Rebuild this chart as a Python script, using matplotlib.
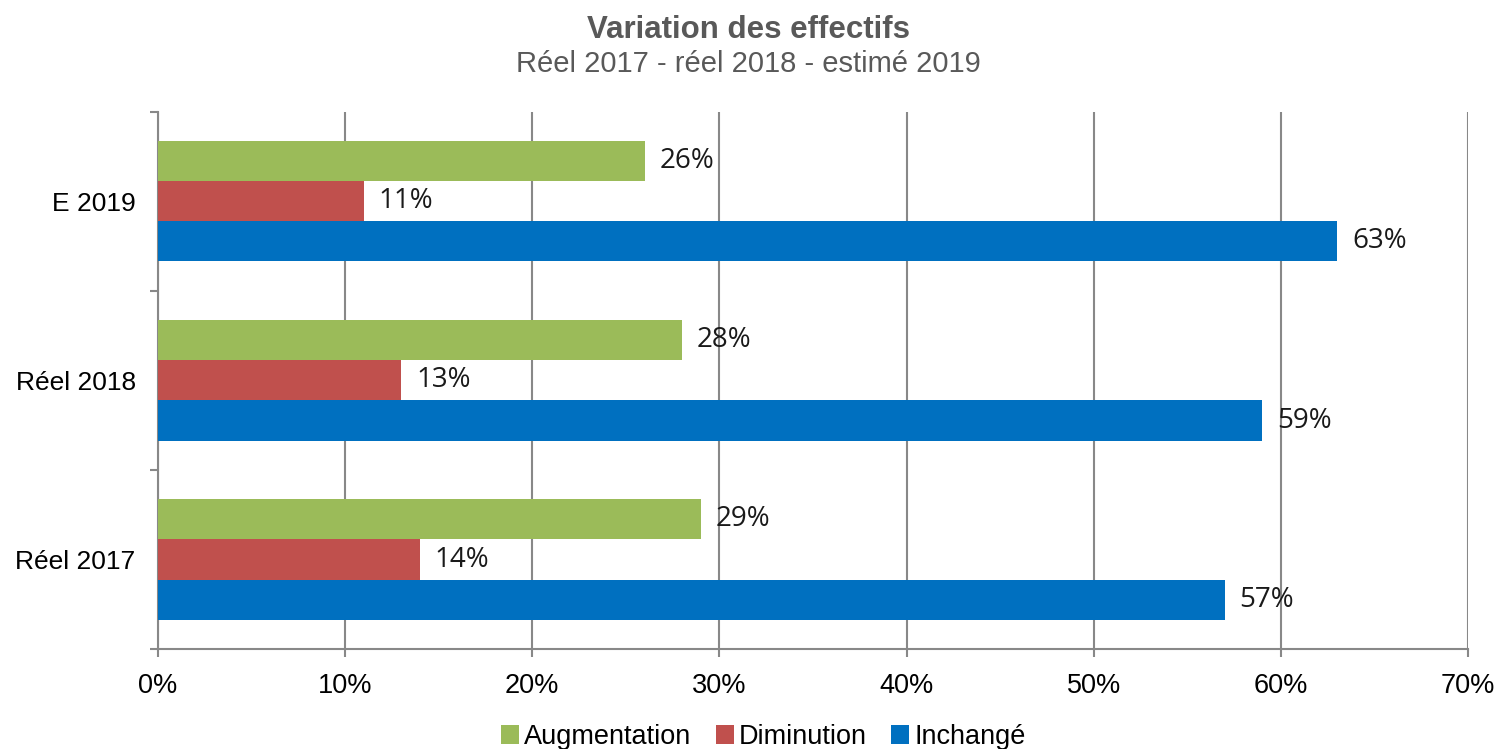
import matplotlib
matplotlib.use("Agg")
import matplotlib.pyplot as plt
import numpy as np

categories = ["Réel 2017", "Réel 2018", "E 2019"]
series = ["Augmentation", "Diminution", "Inchangé"]
augmentation = [29, 28, 26]
diminution = [14, 13, 11]
inchange = [57, 59, 63]
colors = ["#9BBB59", "#C0504D", "#0070C0"]
xticks = [0, 10, 20, 30, 40, 50, 60, 70]

plt.rcParams['font.family'] = ['Liberation Sans', 'DejaVu Sans']

fig = plt.figure(figsize=(14.97, 7.49), dpi=100)
ax = fig.add_axes([0.1055, 0.1335, 0.8751, 0.717])

y = np.arange(len(categories))
h = 0.2235
data = [augmentation, diminution, inchange]
offsets = [h, 0, -h]
for vals, off, c, name in zip(data, offsets, colors, series):
    bars = ax.barh(y + off, vals, height=h, color=c, label=name, zorder=3)
    for b, v in zip(bars, vals):
        ax.text(v + 0.8, b.get_y() + b.get_height() / 2, f"{v}%",
                va="center", ha="left", fontsize=20,
                family=["Open Sans", "DejaVu Sans"], color="#1a1a1a", zorder=4)

ax.set_xlim(0, 70)
ax.set_ylim(-0.5, 2.5)
ax.set_xticks(xticks)
ax.set_xticklabels([f"{t}%" for t in xticks], fontsize=19.5)
ax.set_yticks(y)
ax.set_yticklabels(categories, fontsize=19)
ax.set_yticks([-0.5, 0.5, 1.5, 2.5], minor=True)
ax.tick_params(axis="y", which="major", length=0, pad=16)
ax.tick_params(axis="y", which="minor", length=6, color="#888888", width=1.5)
ax.tick_params(axis="x", length=6, color="#888888", width=1.5, pad=11)
ax.grid(axis="x", color="#888888", linewidth=1.5, zorder=0)
for s in ["top", "right"]:
    ax.spines[s].set_visible(False)
for s in ["left", "bottom"]:
    ax.spines[s].set_color("#888888")
    ax.spines[s].set_linewidth(1.5)

fig.text(0.5, 0.96, "Variation des effectifs", ha="center", va="center",
         fontsize=22.5, fontweight="bold", color="#595959")
fig.text(0.5, 0.914, "Réel 2017 - réel 2018 - estimé 2019", ha="center",
         va="center", fontsize=21, color="#595959")

handles, labels = ax.get_legend_handles_labels()
fig.legend(handles, labels, loc="center", bbox_to_anchor=(0.51, 0.016), ncol=3,
           frameon=False, fontsize=19.5, handlelength=0.65, handleheight=0.65,
           handletextpad=0.2, columnspacing=0.9, borderpad=0)

fig.savefig("out.png", dpi=100)
